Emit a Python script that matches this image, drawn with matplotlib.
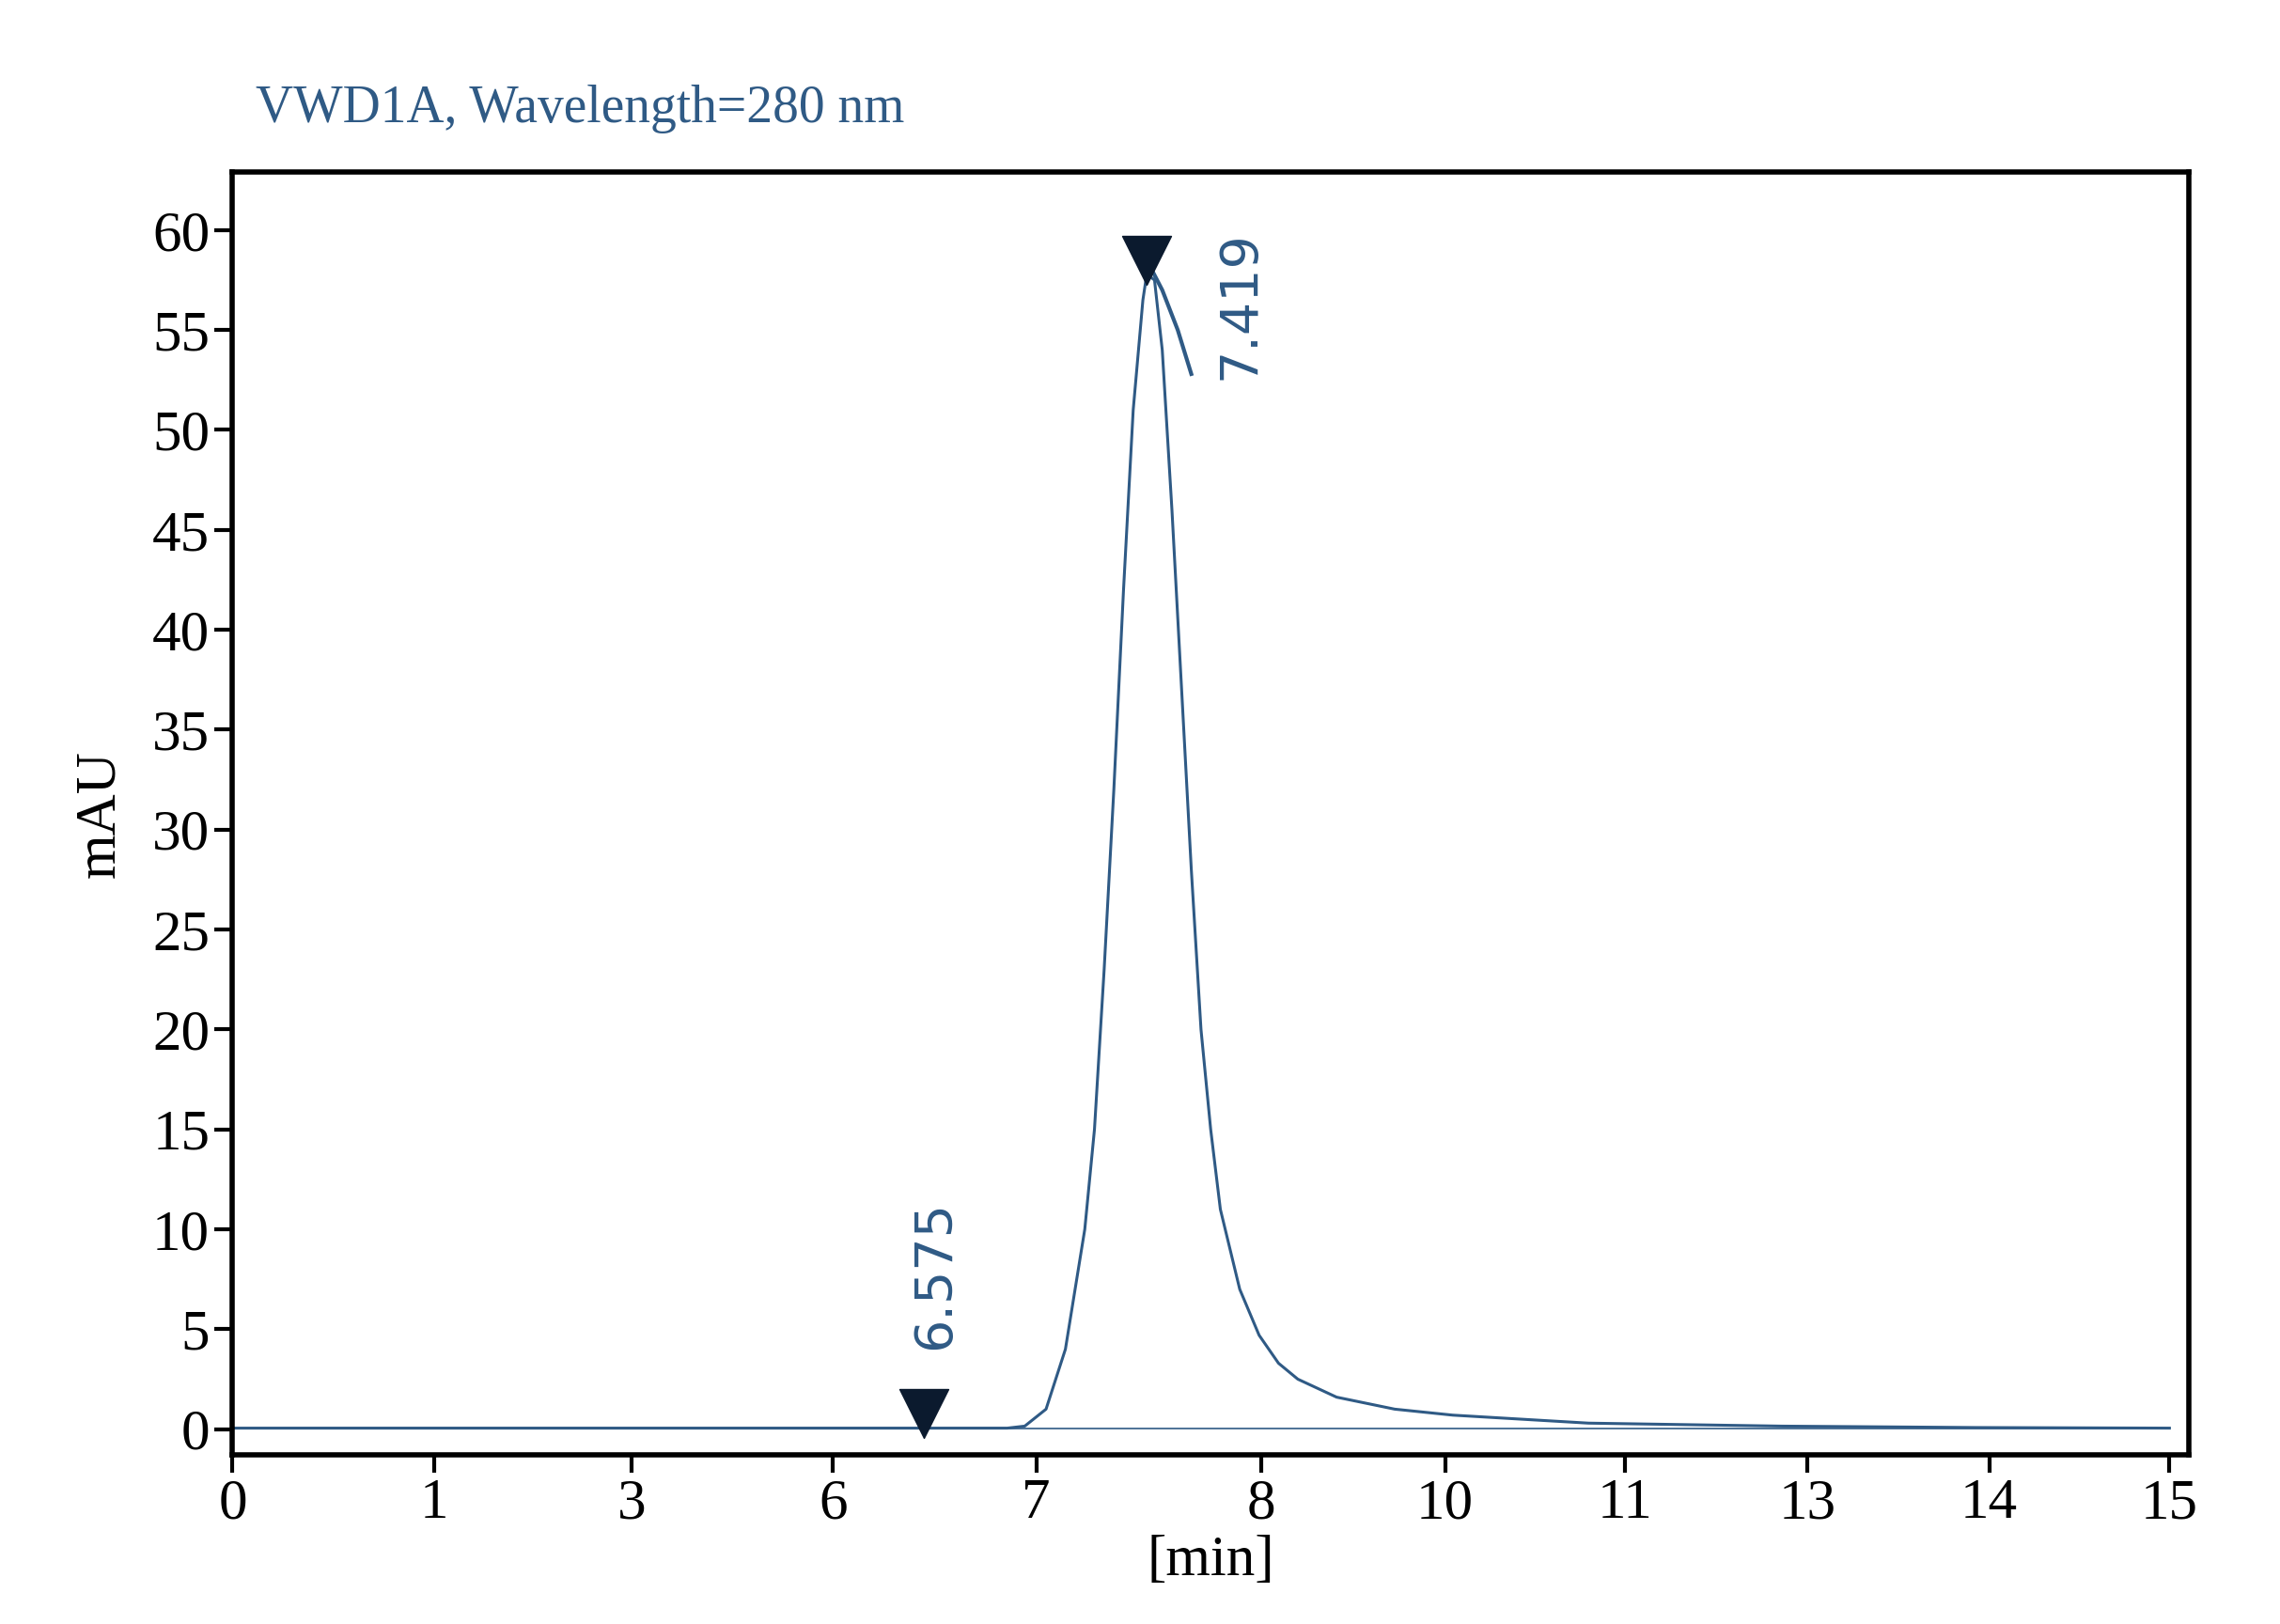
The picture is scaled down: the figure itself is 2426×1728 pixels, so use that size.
import matplotlib.pyplot as plt

# x axis is drawn in even "slot" units; labels as printed on the reference
tick_pos = [0, 1.04, 2.06, 3.1, 4.15, 5.31, 6.26, 7.19, 8.13, 9.07, 10.0]
tick_lab = ["0", "1", "3", "6", "7", "8", "10", "11", "13", "14", "15"]

trace_x = [0, 1, 2, 3, 3.57, 4.0, 4.09, 4.2, 4.3, 4.4, 4.45, 4.5, 4.55, 4.6, 4.65,
           4.7, 4.72, 4.76, 4.8, 4.85, 4.9, 4.95, 5.0, 5.05, 5.1, 5.2, 5.3, 5.4,
           5.5, 5.7, 6.0, 6.3, 7.0, 8.0, 9.0, 10.0]
trace_y = [0.05, 0.05, 0.05, 0.05, 0.05, 0.05, 0.15, 1.0, 4.0, 10.0, 15.0, 23.0,
           32.0, 42.0, 51.0, 56.5, 57.8, 57.5, 54.0, 46.0, 37.0, 28.0, 20.0, 15.0,
           11.0, 7.0, 4.7, 3.3, 2.5, 1.6, 1.0, 0.7, 0.3, 0.15, 0.08, 0.05]

peaks_x = [3.57, 4.72]
peaks_y = [0.8, 58.5]
peak_lab = ["6.575", "7.419"]

blue = "#2f5a85"
ser = "Liberation Serif"

fig = plt.figure(figsize=(24.26, 17.28), dpi=100)
ax = fig.add_axes([0.102, 0.104, 0.858, 0.79])

ax.plot(trace_x, trace_y, color=blue, lw=2.2)
ax.plot([peaks_x[0], 10.0], [0.05, 0.05], color=blue, lw=1.2)
ax.plot([4.72, 4.8, 4.88, 4.95], [58.5, 57.0, 55.0, 52.8], color=blue, lw=3)
ax.scatter(peaks_x, peaks_y, marker="v", s=1400, color="#0b1a2e", zorder=5)

ax.text(3.63, 4.0, peak_lab[0], rotation=90, color=blue, fontsize=40,
        ha="center", va="bottom", family="DejaVu Sans")
ax.text(5.2, 52.5, peak_lab[1], rotation=90, color=blue, fontsize=40,
        ha="center", va="bottom", family="DejaVu Sans")

ax.set_xlim(0, 10.1)
ax.set_ylim(-1.3, 62.9)
ax.set_xticks(tick_pos)
ax.set_xticklabels(tick_lab)
ax.set_yticks(range(0, 61, 5))
for lab in ax.get_xticklabels() + ax.get_yticklabels():
    lab.set_family(ser)
    lab.set_fontsize(44)
ax.tick_params(width=3, length=14, direction="out")
for s in ax.spines.values():
    s.set_linewidth(4)

ax.set_xlabel("[min]", family=ser, fontsize=44, labelpad=4)
ax.set_ylabel("mAU", family=ser, fontsize=44, labelpad=20)
fig.text(0.112, 0.925, "VWD1A, Wavelength=280 nm", family=ser, fontsize=40,
         color=blue, stretch="condensed")

fig.savefig("out.png", dpi=100, facecolor="white")
